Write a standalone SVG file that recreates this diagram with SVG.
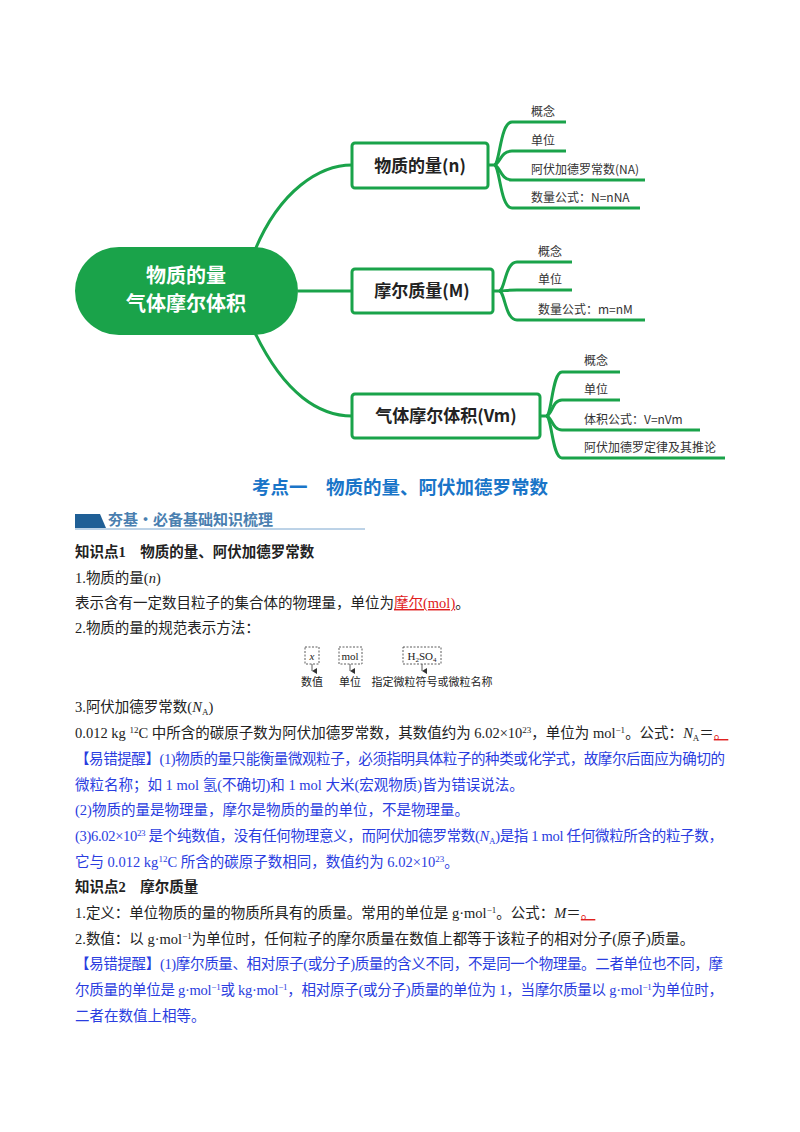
<svg xmlns="http://www.w3.org/2000/svg" width="800" height="1132" viewBox="0 0 800 1132">
<defs>
<style>
.mm{fill:none;stroke:#1aa34a;stroke-width:3}
.box{fill:#fff;stroke:#1aa34a;stroke-width:3}
.bt{font-family:"Noto Sans CJK SC",sans-serif;font-weight:bold;font-size:17px;fill:#222;text-anchor:middle}
.lt{font-family:"Noto Sans CJK SC",sans-serif;font-size:12px;fill:#333}
.t{font-family:"Liberation Serif","Noto Sans CJK SC",serif;font-size:14.5px;fill:#222}
.b{fill:#2a3de0}
.bd{font-weight:bold}
.dash{fill:none;stroke:#333;stroke-dasharray:2,1.5;stroke-width:0.8}
</style>
<marker id="ar" markerWidth="6" markerHeight="6" refX="3" refY="5" orient="auto" markerUnits="userSpaceOnUse"><path d="M0,0 L3,5 L6,0 Z" fill="#333"/></marker>
</defs>
<rect width="800" height="1132" fill="#fff"/>
<g id="connectors">
<path class="mm" d="M255,250 C280,190 320,165 352,165"/>
<path class="mm" d="M298,291 H352"/>
<path class="mm" d="M255,333 C285,395 320,416 352,416"/>
<path class="mm" d="M488,165 H494 C500,165 500,122 512,122 H566"/>
<path class="mm" d="M494,165 C500,165 500,151 512,151 H566"/>
<path class="mm" d="M494,165 C500,165 500,180 512,180 H645"/>
<path class="mm" d="M494,165 C500,165 500,208 512,208 H640"/>
<path class="mm" d="M493,291 H499 C505,291 505,262 517,262 H572"/>
<path class="mm" d="M499,291 C505,291 505,290 517,290 H572"/>
<path class="mm" d="M499,291 C505,291 505,320 517,320 H645"/>
<path class="mm" d="M540,416 H546 C552,416 552,372 562,372 H620"/>
<path class="mm" d="M546,416 C552,416 552,400 562,400 H620"/>
<path class="mm" d="M546,416 C552,416 552,430 562,430 H700"/>
<path class="mm" d="M546,416 C552,416 552,458 562,458 H725"/>
</g>
<g id="center">
<rect x="75" y="247" width="223" height="88" rx="44" fill="#1aa34a"/>
<text x="186" y="283" class="bt" style="fill:#fff;font-size:20px">物质的量</text>
<text x="186" y="311" class="bt" style="fill:#fff;font-size:20px">气体摩尔体积</text>
</g>
<g id="n1"><rect class="box" x="352" y="143" width="136" height="45" rx="3"/><text class="bt" x="420" y="172">物质的量(n)</text></g>
<g id="n2"><rect class="box" x="352" y="269" width="141" height="44" rx="3"/><text class="bt" x="422" y="297">摩尔质量(M)</text></g>
<g id="n3"><rect class="box" x="352" y="394" width="188" height="44" rx="3"/><text class="bt" x="446" y="422">气体摩尔体积(Vm)</text></g>
<g id="leaves">
<text class="lt" x="531" y="116">概念</text>
<text class="lt" x="531" y="145">单位</text>
<text class="lt" x="531" y="174">阿伏加德罗常数(NA)</text>
<text class="lt" x="531" y="202">数量公式：N=nNA</text>
<text class="lt" x="538" y="256">概念</text>
<text class="lt" x="538" y="284">单位</text>
<text class="lt" x="538" y="314">数量公式：m=nM</text>
<text class="lt" x="584" y="365">概念</text>
<text class="lt" x="584" y="394">单位</text>
<text class="lt" x="584" y="424">体积公式：V=nVm</text>
<text class="lt" x="584" y="452">阿伏加德罗定律及其推论</text>
</g>
<text x="400" y="494" text-anchor="middle" style="font-family:'Noto Sans CJK SC',sans-serif;font-weight:bold;font-size:18.5px;fill:#1a75c8">考点一　物质的量、阿伏加德罗常数</text>
<polygon points="75,514 100,514 106,528 75,528" fill="#1f5f96"/>
<line x1="75" y1="529" x2="365" y2="529" stroke="#7aa6cf" stroke-width="1"/>
<text x="108" y="525" style="font-family:'Noto Sans CJK SC',sans-serif;font-weight:bold;font-size:15px;fill:#4a7fb0">夯基·必备基础知识梳理</text>
<g class="t">
<text x="75" y="557" class="t bd">知识点1　物质的量、阿伏加德罗常数</text>
<text x="75" y="583" class="t">1.物质的量(<tspan font-style="italic">n</tspan>)</text>
<text x="75" y="608" class="t">表示含有一定数目粒子的集合体的物理量，单位为<tspan fill="#e02020" text-decoration="underline">摩尔(mol)</tspan>。</text>
<text x="75" y="633" class="t">2.物质的量的规范表示方法：</text>
</g>
<g id="notation">
<rect class="dash" x="305" y="647" width="14" height="17"/>
<rect class="dash" x="339" y="647" width="23" height="17"/>
<rect class="dash" x="403" y="647" width="38" height="17"/>
<text x="312" y="660" text-anchor="middle" class="t" style="font-size:11px;font-style:italic">x</text>
<text x="350" y="660" text-anchor="middle" class="t" style="font-size:11px">mol</text>
<text x="422" y="660" text-anchor="middle" class="t" style="font-size:11px">H<tspan font-size="7" dy="2">2</tspan><tspan dy="-2">SO</tspan><tspan font-size="7" dy="2">4</tspan></text>
<line x1="312" y1="664" x2="312" y2="671" stroke="#333" stroke-width="0.8" marker-end="url(#ar)"/>
<line x1="350" y1="664" x2="350" y2="671" stroke="#333" stroke-width="0.8" marker-end="url(#ar)"/>
<line x1="422" y1="664" x2="422" y2="671" stroke="#333" stroke-width="0.8" marker-end="url(#ar)"/>
<text x="312" y="686" text-anchor="middle" class="t" style="font-size:11px">数值</text>
<text x="350" y="686" text-anchor="middle" class="t" style="font-size:11px">单位</text>
<text x="432" y="686" text-anchor="middle" class="t" style="font-size:11px">指定微粒符号或微粒名称</text>
</g>
<g id="body">
<text x="75" y="712" class="t">3.阿伏加德罗常数(<tspan font-style="italic">N</tspan><tspan font-size="9" dy="3">A</tspan><tspan dy="-3">)</tspan></text>
<text x="75" y="738" class="t">0.012 kg <tspan font-size="9" dy="-5">12</tspan><tspan dy="5">C 中所含的碳原子数为阿伏加德罗常数，其数值约为 6.02×10</tspan><tspan font-size="9" dy="-5">23</tspan><tspan dy="5">，单位为 mol</tspan><tspan font-size="9" dy="-5">−1</tspan><tspan dy="5">。公式：</tspan><tspan font-style="italic">N</tspan><tspan font-size="9" dy="3">A</tspan><tspan dy="-3">＝</tspan><tspan fill="#e02020" text-decoration="underline">。</tspan></text>
<text x="75" y="764" class="t b" textLength="650">【易错提醒】(1)物质的量只能衡量微观粒子，必须指明具体粒子的种类或化学式，故摩尔后面应为确切的</text>
<text x="75" y="790" class="t b">微粒名称；如 1 mol 氢(不确切)和 1 mol 大米(宏观物质)皆为错误说法。</text>
<text x="75" y="815" class="t b">(2)物质的量是物理量，摩尔是物质的量的单位，不是物理量。</text>
<text x="75" y="841" class="t b" textLength="648">(3)6.02×10<tspan font-size="9" dy="-5">23</tspan><tspan dy="5"> 是个纯数值，没有任何物理意义，而阿伏加德罗常数(</tspan><tspan font-style="italic">N</tspan><tspan font-size="9" dy="3">A</tspan><tspan dy="-3">)是指 1 mol 任何微粒所含的粒子数，</tspan></text>
<text x="75" y="867" class="t b">它与 0.012 kg<tspan font-size="9" dy="-5">12</tspan><tspan dy="5">C 所含的碳原子数相同，数值约为 6.02×10</tspan><tspan font-size="9" dy="-5">23</tspan><tspan dy="5">。</tspan></text>
<text x="75" y="892" class="t bd">知识点2　摩尔质量</text>
<text x="75" y="918" class="t">1.定义：单位物质的量的物质所具有的质量。常用的单位是 g·mol<tspan font-size="9" dy="-5">−1</tspan><tspan dy="5">。公式：</tspan><tspan font-style="italic">M</tspan>＝<tspan fill="#e02020" text-decoration="underline">。</tspan></text>
<text x="75" y="944" class="t">2.数值：以 g·mol<tspan font-size="9" dy="-5">−1</tspan><tspan dy="5">为单位时，任何粒子的摩尔质量在数值上都等于该粒子的相对分子(原子)质量。</tspan></text>
<text x="75" y="969" class="t b" textLength="648">【易错提醒】(1)摩尔质量、相对原子(或分子)质量的含义不同，不是同一个物理量。二者单位也不同，摩</text>
<text x="75" y="995" class="t b" textLength="648">尔质量的单位是 g·mol<tspan font-size="9" dy="-5">−1</tspan><tspan dy="5">或 kg·mol</tspan><tspan font-size="9" dy="-5">−1</tspan><tspan dy="5">，相对原子(或分子)质量的单位为 1，当摩尔质量以 g·mol</tspan><tspan font-size="9" dy="-5">−1</tspan><tspan dy="5">为单位时，</tspan></text>
<text x="75" y="1021" class="t b">二者在数值上相等。</text>
</g>
</svg>
